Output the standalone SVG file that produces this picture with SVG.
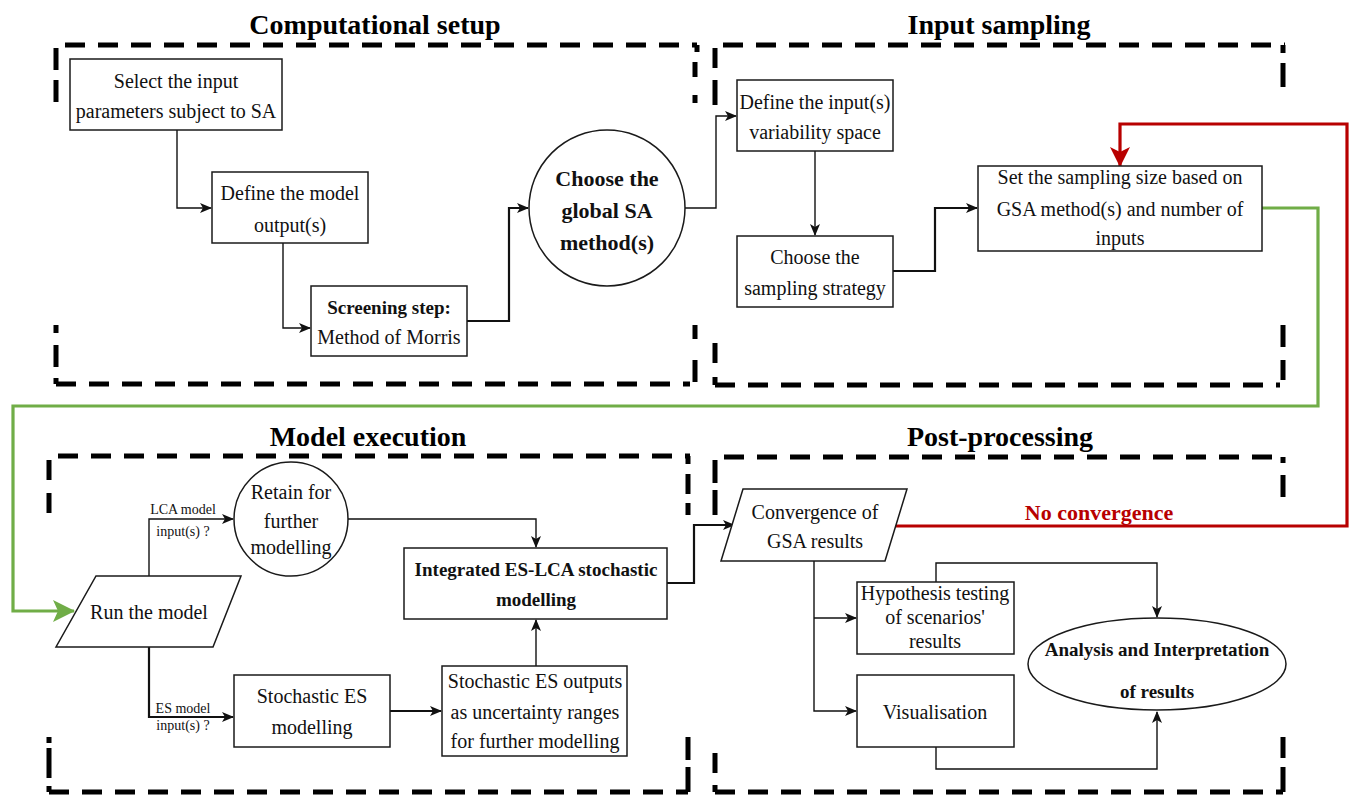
<svg xmlns="http://www.w3.org/2000/svg" width="1351" height="795" viewBox="0 0 1351 795">
<defs>
<style>
.frame{fill:none;stroke:#000;stroke-width:5}
.dash{stroke-dasharray:20 13}
.node{fill:#fff;stroke:#1a1a1a;stroke-width:1.5}
.t{font-family:"Liberation Serif","Times New Roman",serif;font-size:20px;fill:#111;text-anchor:middle}
.b{font-weight:bold}
.title{font-family:"Liberation Serif","Times New Roman",serif;font-size:28px;font-weight:bold;fill:#000;text-anchor:middle}
.small{font-family:"Liberation Serif","Times New Roman",serif;font-size:14px;fill:#111;text-anchor:middle}
.c{fill:none;stroke:#111;stroke-width:1.4}
.c2{fill:none;stroke:#111;stroke-width:2.2}
.red{fill:none;stroke:#b80000;stroke-width:3.2}
.green{fill:none;stroke:#70ad47;stroke-width:3.2}
</style>
<marker id="arr" viewBox="0 0 12 10" refX="11" refY="5" markerWidth="12" markerHeight="10" markerUnits="userSpaceOnUse" orient="auto">
<path d="M0,0 L12,5 L0,10 L3,5 z" fill="#111"/>
</marker>
<marker id="arrR" viewBox="0 0 20 20" refX="19" refY="10" markerWidth="20" markerHeight="20" markerUnits="userSpaceOnUse" orient="auto">
<path d="M0,0 L20,10 L0,20 L5,10 z" fill="#b80000"/>
</marker>
<marker id="arrG" viewBox="0 0 22 22" refX="21" refY="11" markerWidth="22" markerHeight="22" markerUnits="userSpaceOnUse" orient="auto">
<path d="M0,0 L22,11 L0,22 L5,11 z" fill="#70ad47"/>
</marker>
</defs>
<rect width="1351" height="795" fill="#fff"/>

<!-- Frames -->
<g id="frame-computational-setup">
<path class="frame dash" d="M65,45 H697"/>
<path class="frame" d="M697,45 V52"/>
<path class="frame dash" d="M56,384 H690"/>
<path class="frame" d="M56,48 V70 M56,80 V102 M56,325 V333 M56,345 V367 M56,378 V384 M695,62 V77 M695,95 V103 M695,325 V339 M695,360 V382"/>
<text class="title" x="375" y="34">Computational setup</text>
</g>
<g id="frame-input-sampling">
<path class="frame dash" d="M723,45 H1285"/>
<path class="frame" d="M1283,45 V53"/>
<path class="frame dash" d="M715,385 H1280"/>
<path class="frame" d="M715,48 V68 M715,80 V105 M715,343 V363 M715,377 V385 M1283,63 V87 M1283,325 V347 M1283,360 V380"/>
<text class="title" x="999" y="34">Input sampling</text>
</g>
<g id="frame-model-execution">
<path class="frame dash" d="M58,456 H690"/>
<path class="frame dash" d="M49,792 H688"/>
<path class="frame" d="M49,460 V480 M49,493 V513 M49,737 V743 M49,748 V778 M49,786 V792 M688,456 V464 M688,474 V494 M688,503 V515 M688,737 V760 M688,767 V792"/>
<text class="title" x="368" y="446">Model execution</text>
</g>
<g id="frame-post-processing">
<path class="frame dash" d="M724,457 H1285"/>
<path class="frame dash" d="M715,792 H1283"/>
<path class="frame" d="M715,460 V483 M715,490 V515 M715,753 V773 M715,785 V792 M1283,457 V463 M1283,475 V497 M1283,737 V758 M1283,767 V792"/>
<text class="title" x="1000" y="446">Post-processing</text>
</g>

<!-- Connectors -->
<g id="connectors">
<path class="c" d="M177,130 V208 H211" marker-end="url(#arr)"/>
<path class="c" d="M283,243 V328 H310" marker-end="url(#arr)"/>
<path class="c2" d="M467,321 H509 V208 H528" marker-end="url(#arr)"/>
<path class="c" d="M685,208 H716 V116 H736" marker-end="url(#arr)"/>
<path class="c" d="M815,151 V235" marker-end="url(#arr)"/>
<path class="c2" d="M893,271 H935 V208 H977" marker-end="url(#arr)"/>
<path class="green" d="M1262,208 H1318 V406 H13 V611 H74" marker-end="url(#arrG)"/>
<path class="red" d="M895,526 H1347 V124 H1120 V166" marker-end="url(#arrR)"/>
<path class="c" d="M149,576 V519 H233" marker-end="url(#arr)"/>
<path class="c2" d="M149,647 V717 H233" marker-end="url(#arr)"/>
<path class="c" d="M347,519 H536 V547" marker-end="url(#arr)"/>
<path class="c2" d="M390,711 H441" marker-end="url(#arr)"/>
<path class="c" d="M536,666 V620" marker-end="url(#arr)"/>
<path class="c2" d="M667,583 H694 V525 H734" marker-end="url(#arr)"/>
<path class="c" d="M814,561 V711 H856" marker-end="url(#arr)"/>
<path class="c" d="M814,618 H856" marker-end="url(#arr)"/>
<path class="c" d="M936,582 V563 H1157 V617" marker-end="url(#arr)"/>
<path class="c" d="M936,747 V769 H1157 V712" marker-end="url(#arr)"/>
<text class="small" x="183" y="514">LCA model</text>
<text class="small" x="183" y="536">input(s) ?</text>
<text class="small" x="183" y="713">ES model</text>
<text class="small" x="183" y="730">input(s) ?</text>
<text class="t b" x="1099" y="520" style="font-size:22px;fill:#b80000">No convergence</text>
</g>

<!-- Nodes -->
<g id="n-select">
<rect class="node" x="70" y="59" width="212" height="71"/>
<text class="t" x="176" y="88">Select the input</text>
<text class="t" x="176" y="118">parameters subject to SA</text>
</g>
<g id="n-define-output">
<rect class="node" x="212" y="172" width="156" height="71"/>
<text class="t" x="290" y="200">Define the model</text>
<text class="t" x="290" y="232">output(s)</text>
</g>
<g id="n-screening">
<rect class="node" x="311" y="286" width="156" height="70"/>
<text class="t b" x="389" y="314" style="font-size:19px">Screening step:</text>
<text class="t" x="389" y="344">Method of Morris</text>
</g>
<g id="n-choose-gsa">
<circle class="node" cx="607" cy="208" r="78"/>
<text class="t b" x="607" y="186" style="font-size:22px">Choose the</text>
<text class="t b" x="607" y="218" style="font-size:22px">global SA</text>
<text class="t b" x="607" y="250" style="font-size:22px">method(s)</text>
</g>
<g id="n-define-input">
<rect class="node" x="737" y="80" width="156" height="71"/>
<text class="t" x="815" y="109">Define the input(s)</text>
<text class="t" x="815" y="139">variability space</text>
</g>
<g id="n-sampling-strategy">
<rect class="node" x="737" y="236" width="156" height="71"/>
<text class="t" x="815" y="264">Choose the</text>
<text class="t" x="815" y="295">sampling strategy</text>
</g>
<g id="n-sampling-size">
<rect class="node" x="978" y="166" width="284" height="85"/>
<text class="t" x="1120" y="184">Set the sampling size based on</text>
<text class="t" x="1120" y="216">GSA method(s) and number of</text>
<text class="t" x="1120" y="245">inputs</text>
</g>
<g id="n-run-model">
<polygon class="node" points="96,576 241,576 213,647 56,647"/>
<text class="t" x="149" y="619">Run the model</text>
</g>
<g id="n-retain">
<ellipse class="node" cx="291" cy="519" rx="57" ry="57"/>
<text class="t" x="291" y="499">Retain for</text>
<text class="t" x="291" y="528">further</text>
<text class="t" x="291" y="554">modelling</text>
</g>
<g id="n-integrated">
<rect class="node" x="404" y="548" width="263" height="71"/>
<text class="t b" x="536" y="576" style="font-size:19px">Integrated ES-LCA stochastic</text>
<text class="t b" x="536" y="606" style="font-size:19px">modelling</text>
</g>
<g id="n-stochastic-es">
<rect class="node" x="234" y="675" width="156" height="72"/>
<text class="t" x="312" y="703">Stochastic ES</text>
<text class="t" x="312" y="734">modelling</text>
</g>
<g id="n-es-outputs">
<rect class="node" x="442" y="666" width="185" height="90"/>
<text class="t" x="535" y="688">Stochastic ES outputs</text>
<text class="t" x="535" y="719">as uncertainty ranges</text>
<text class="t" x="535" y="748">for further modelling</text>
</g>
<g id="n-convergence">
<polygon class="node" points="743,489 907,489 885,561 721,561"/>
<text class="t" x="815" y="519">Convergence of</text>
<text class="t" x="815" y="548">GSA results</text>
</g>
<g id="n-hypothesis">
<rect class="node" x="857" y="582" width="157" height="72"/>
<text class="t" x="935" y="600">Hypothesis testing</text>
<text class="t" x="935" y="624">of scenarios'</text>
<text class="t" x="935" y="648">results</text>
</g>
<g id="n-visualisation">
<rect class="node" x="857" y="675" width="157" height="72"/>
<text class="t" x="935" y="719">Visualisation</text>
</g>
<g id="n-analysis">
<ellipse class="node" cx="1157" cy="664" rx="129" ry="46"/>
<text class="t b" x="1157" y="656" style="font-size:19px">Analysis and Interpretation</text>
<text class="t b" x="1157" y="698" style="font-size:19px">of results</text>
</g>
</svg>
